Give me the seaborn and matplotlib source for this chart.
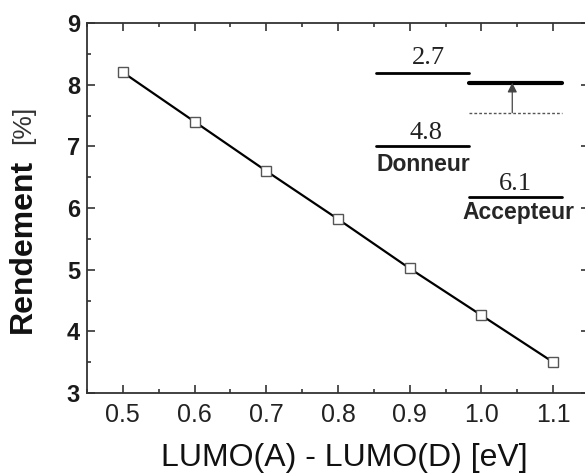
import matplotlib
matplotlib.use("Agg")
import matplotlib.pyplot as plt
from matplotlib.ticker import MultipleLocator
import seaborn as sns
import pandas as pd

# ---- data ----
lumo_diff = [0.5, 0.6, 0.7, 0.8, 0.9, 1.0, 1.1]
rendement = [8.2, 7.4, 6.6, 5.82, 5.02, 4.26, 3.5]
x_ticks = [0.5, 0.6, 0.7, 0.8, 0.9, 1.0, 1.1]
y_ticks = [3, 4, 5, 6, 7, 8, 9]

# energy-level inset (labels and levels)
level_labels = ["2.7", "4.8", "6.1"]
donor_x = [0.853, 0.983]
acceptor_x = [0.983, 1.1125]
donor_lumo_y = 8.185
donor_homo_y = 7.005
acc_lumo_y = 8.032
acc_lumo_ref_y = 7.545
acc_homo_y = 6.174
arrow_x = 1.043

sns.set_style("ticks")
plt.rcParams["font.family"] = ["Liberation Sans", "DejaVu Sans"]

fig = plt.figure(figsize=(5.85, 4.76), dpi=100)
ax = fig.add_axes([87 / 585, 83 / 476, 502 / 585, 370 / 476])

df = pd.DataFrame({"x": lumo_diff, "y": rendement})
sns.lineplot(data=df, x="x", y="y", ax=ax, color="black", linewidth=1.6,
             marker="s", markersize=7, markerfacecolor="white",
             markeredgecolor="#555555", markeredgewidth=1.0)

ax.set_xlim(0.45, 1.15)
ax.set_ylim(3, 9)
ax.set_xticks(x_ticks)
ax.set_xticklabels([f"{v:.1f}" for v in x_ticks])
ax.set_yticks(y_ticks)
ax.xaxis.set_minor_locator(MultipleLocator(0.05))
ax.yaxis.set_minor_locator(MultipleLocator(0.5))
ax.tick_params(which="both", direction="in", top=True, right=True,
               color="#333333", width=1.2)
ax.tick_params(which="major", length=6)
ax.tick_params(which="minor", length=3)
ax.tick_params(axis="x", which="major", labelsize=18, pad=7,
               labelcolor="#222222")
ax.tick_params(axis="y", which="major", labelsize=17, pad=5,
               labelcolor="#1a1a1a")
for lab in ax.get_yticklabels():
    lab.set_fontweight("bold")
for s in ax.spines.values():
    s.set_linewidth(1.3)
    s.set_color("#333333")
ax.set_xlabel("")
ax.set_ylabel("")

# axis labels
fig.text(344.5 / 585, 1 - 458 / 476, "LUMO(A) - LUMO(D) [eV]", fontsize=23,
         ha="center", va="center", color="#111111")
fig.text(23 / 585, 1 - 246 / 476, "Rendement", fontsize=23, fontweight="bold",
         rotation=90, ha="center", va="center", color="#111111")
fig.text(23 / 585, 1 - 125 / 476, "[%]", fontsize=19, rotation=90,
         ha="center", va="center", color="#333333")

# energy level diagram
ax.plot(donor_x, [donor_lumo_y] * 2, color="black", lw=2)
ax.plot(donor_x, [donor_homo_y] * 2, color="black", lw=2)
ax.plot(acceptor_x, [acc_lumo_y] * 2, color="black", lw=3)
ax.plot(acceptor_x, [acc_lumo_ref_y] * 2, color="#555555", lw=1,
        linestyle=(0, (2, 1.5)))
ax.plot(acceptor_x, [acc_homo_y] * 2, color="black", lw=2)
ax.annotate("", xy=(arrow_x, acc_lumo_y), xytext=(arrow_x, acc_lumo_ref_y),
            arrowprops=dict(arrowstyle="-|>", color="#444444", lw=0.9,
                            mutation_scale=14, shrinkA=0, shrinkB=0))
serif = ["Liberation Serif", "DejaVu Serif"]
ax.text(0.926, 8.43, level_labels[0], family=serif, fontsize=19,
        ha="center", va="center", color="#222222")
ax.text(0.923, 7.22, level_labels[1], family=serif, fontsize=19,
        ha="center", va="center", color="#222222")
ax.text(1.048, 6.39, level_labels[2], family=serif, fontsize=19,
        ha="center", va="center", color="#222222")
ax.text(0.854, 6.70, "Donneur", fontsize=16.5, fontweight="bold",
        ha="left", va="center")
ax.text(0.974, 5.92, "Accepteur", fontsize=16.5, fontweight="bold",
        ha="left", va="center")

fig.savefig("out.png", dpi=100, facecolor="white")
